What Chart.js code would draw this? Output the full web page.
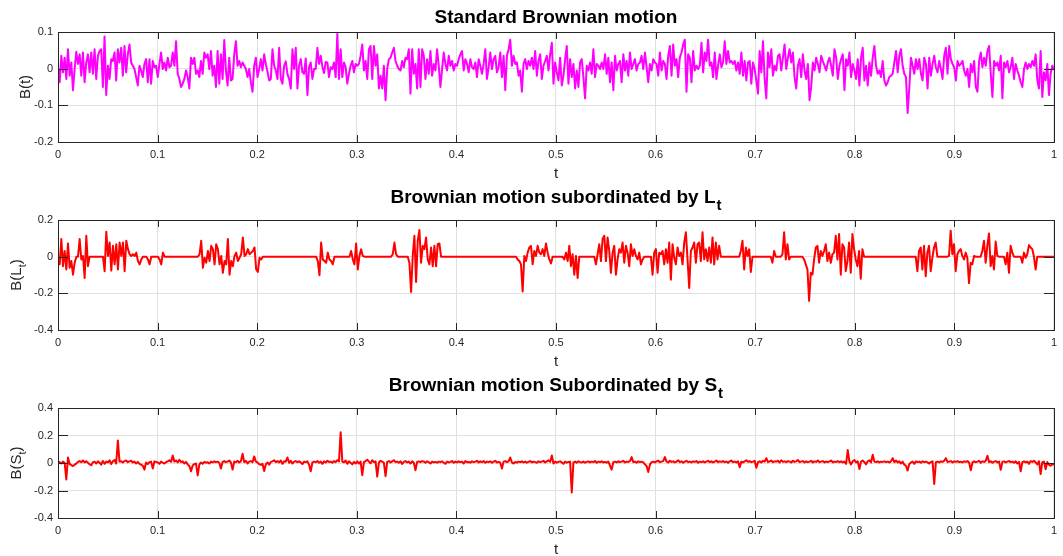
<!DOCTYPE html>
<html><head><meta charset="utf-8">
<script src="https://cdn.jsdelivr.net/npm/chart.js@4/dist/chart.umd.min.js"></script>
<style>
html,body{margin:0;padding:0;background:#fff;}
body{width:1063px;height:556px;position:relative;overflow:hidden;}
.box{position:absolute;left:0;width:1063px;height:186px;}
canvas{display:block;}
</style></head><body>
<div class="box" style="top:0px"><canvas id="c1" width="1063" height="186"></canvas></div>
<div class="box" style="top:188px"><canvas id="c2" width="1063" height="186"></canvas></div>
<div class="box" style="top:376px"><canvas id="c3" width="1063" height="186"></canvas></div>
<script>
const xTicks = [0,0.1,0.2,0.3,0.4,0.5,0.6,0.7,0.8,0.9,1];
const xTickLabels = ['0','0.1','0.2','0.3','0.4','0.5','0.6','0.7','0.8','0.9','1'];
const yTicks1 = [-0.2,-0.1,0,0.1];
const yTickLabels1 = ['-0.2','-0.1','0','0.1'];
const yTicks2 = [-0.4,-0.2,0,0.2];
const yTickLabels2 = ['-0.4','-0.2','0','0.2'];
const yTicks3 = [-0.4,-0.2,0,0.2,0.4];
const yTickLabels3 = ['-0.4','-0.2','0','0.2','0.4'];
const titles = ['Standard Brownian motion','Brownian motion subordinated by L','Brownian motion Subordinated by S'];
const titleSubs = ['','t','t'];
const yLabels = ['B(t)','B(L','B(S'];
const yLabelTails = ['',')',')'];
const xLabel = 't';

// Standard Brownian motion (sampled on a uniform grid over [0,1])
const bm = [
0.004,-0.037,0.035,-0.010,0.030,-0.028,0.053,-0.019,0.017,-0.059,
-0.001,0.046,0.013,0.039,-0.019,0.044,-0.037,0.017,0.039,-0.010,
0.044,-0.014,0.053,-0.028,0.035,0.048,0.053,-0.050,0.088,-0.072,
0.008,-0.028,0.026,0.021,0.044,-0.032,0.053,0.017,0.057,-0.019,
0.062,-0.010,0.039,0.066,0.017,0.008,-0.001,-0.023,-0.046,0.008,
-0.005,-0.023,0.013,0.026,-0.037,0.026,-0.041,0.021,0.004,0.008,
-0.023,0.013,0.044,-0.001,0.017,-0.005,0.030,0.004,0.008,0.044,
0.008,0.075,-0.014,-0.028,-0.050,-0.041,-0.028,-0.005,-0.023,-0.054,
0.030,0.013,0.030,-0.014,-0.005,-0.023,0.021,-0.014,0.044,0.030,
0.039,-0.001,0.048,-0.019,0.008,-0.050,0.048,-0.041,0.039,-0.028,
0.078,-0.005,-0.046,0.030,-0.032,-0.028,0.039,0.075,0.008,0.021,
0.004,0.017,0.008,-0.001,-0.023,-0.001,-0.037,-0.063,0.008,0.030,
-0.023,-0.001,0.026,-0.005,0.039,0.012,-0.008,-0.032,-0.028,0.053,0.008,-0.005,
-0.028,0.057,-0.028,-0.041,0.008,0.020,-0.015,-0.028,-0.054,0.053,-0.001,0.057,
-0.054,0.008,0.026,-0.010,-0.014,0.028,-0.072,0.004,0.017,-0.028,
-0.001,-0.001,0.057,0.013,0.035,0.006,-0.012,0.018,0.017,-0.023,0.004,-0.001,0.017,
-0.023,0.095,-0.028,0.053,-0.023,0.017,0.004,-0.041,-0.014,0.008,
0.021,-0.010,0.013,
0.008,0.013,0.035,0.066,-0.005,0.021,-0.028,0.053,0.062,-0.028,
0.062,0.008,0.039,-0.054,-0.019,-0.054,0.008,-0.086,-0.001,0.026,
0.030,0.044,0.057,0.021,0.008,-0.001,-0.005,0.021,0.004,0.030,
0.026,0.053,-0.068,0.053,-0.014,0.013,-0.054,0.053,-0.050,0.053,
0.035,-0.028,0.026,-0.014,0.048,-0.019,0.013,-0.005,0.053,0.008,
-0.050,-0.001,0.044,0.013,-0.005,0.035,0.008,0.021,-0.005,0.013,
0.008,0.026,0.039,0.048,-0.005,0.026,0.013,-0.010,0.026,0.004,
-0.001,0.017,-0.023,0.026,0.008,-0.014,0.013,0.053,-0.028,0.004,
0.044,-0.001,0.026,0.035,-0.010,0.004,0.044,-0.023,0.035,-0.059,
0.035,0.053,0.079,0.008,0.035,0.013,0.017,-0.019,-0.005,-0.063,
0.013,0.026,-0.001,0.021,0.008,0.030,-0.001,0.048,-0.019,0.021,
0.039,-0.028,0.008,0.021,0.035,-0.005,0.039,0.071,-0.041,0.017,
-0.010,-0.032,0.030,-0.046,-0.019,0.026,0.062,-0.041,0.026,-0.023,
0.013,-0.054,-0.005,-0.050,0.017,0.026,-0.023,-0.081,0.008,-0.005,
0.017,-0.014,0.053,-0.023,0.013,0.008,-0.001,0.017,-0.001,0.039,
-0.014,0.030,-0.037,0.017,-0.059,0.035,-0.005,0.013,0.021,-0.037,
0.039,-0.005,0.021,-0.019,0.044,-0.001,0.013,0.026,-0.005,0.013,
0.017,0.035,-0.001,0.044,0.004,-0.037,0.013,-0.005,0.026,0.017,
0.013,-0.019,0.044,-0.005,0.021,0.013,-0.028,0.035,0.062,-0.019,
0.066,0.008,0.026,-0.023,0.030,0.044,0.066,0.079,-0.063,0.039,
0.030,-0.037,0.048,-0.005,0.008,-0.001,
0.008,0.071,-0.010,0.044,0.021,0.079,0.008,0.017,-0.023,0.044,
-0.028,0.008,0.039,0.004,0.017,0.075,0.013,0.048,0.017,0.021,
0.013,0.021,-0.005,0.017,-0.014,0.044,-0.019,0.021,-0.032,0.017,
0.021,-0.041,0.017,-0.001,
-0.032,-0.068,0.048,-0.010,0.075,-0.028,-0.081,0.044,0.004,0.053,
-0.019,0.008,-0.005,0.035,0.039,-0.005,0.030,0.066,-0.001,0.030,
0.053,0.017,0.044,-0.023,-0.054,0.008,0.026,-0.023,0.039,-0.005,
-0.028,0.013,-0.086,-0.050,0.017,-0.005,0.030,0.013,-0.010,0.035,
0.021,0.008,-0.005,0.017,0.030,0.008,-0.019,0.053,0.030,-0.028,
0.008,0.026,0.039,-0.059,0.026,0.008,0.044,-0.023,0.013,-0.005,
-0.028,0.026,-0.046,0.030,0.057,-0.032,0.008,-0.046,0.017,-0.019,
0.030,0.062,0.008,-0.014,-0.005,-0.023,0.021,-0.032,-0.046,-0.037,
-0.023,-0.019,-0.014,0.017,0.048,-0.010,0.035,0.053,0.008,-0.014,
-0.023,-0.121,-0.054,0.030,0.008,-0.014,0.026,-0.001,0.026,-0.014,
-0.032,0.030,0.013,-0.054,0.030,-0.019,0.013,0.035,0.004,-0.010,
0.021,-0.001,-0.028,0.035,0.057,-0.014,0.062,0.026,0.013,0.004,
-0.032,0.021,0.008,0.013,0.021,-0.005,-0.019,-0.001,-0.050,0.013,
-0.010,0.021,-0.050,-0.063,0.021,0.044,0.004,0.030,0.008,0.048,
0.062,-0.014,-0.077,0.021,0.008,0.017,-0.005,0.035,-0.081,0.017,
0.004,0.021,-0.010,0.004,0.030,-0.028,0.013,-0.005,-0.019,-0.037,
-0.050,-0.001,0.017,-0.001,0.013,0.004,0.021,0.008,0.039,-0.032,
-0.054,0.048,-0.077,-0.010,-0.032,0.013,-0.072,-0.014,0.008,-0.001
];

// Brownian motion subordinated by L_t
const bl = [
0,-0.042,0.096,-0.052,0.031,-0.070,0.072,-0.061,-0.024,-0.098,
-0.033,0,0,0.096,-0.015,0.004,-0.116,0.114,-0.052,0,
0,0,0,0,0,0,0,0,-0.079,0.136,
0.004,0.077,-0.076,0.059,-0.042,0.068,-0.070,0.077,0.004,0.077,
-0.079,0.087,0.041,0.013,0.004,0.013,0.004,0.022,-0.024,-0.042,
-0.015,0,0,0,-0.015,-0.042,0,0,0,0,
0,-0.015,-0.042,0.022,0,0,0,0,0,0,
0,0,0,0,0,0,0,0,0,0,
0,0,0,0,0,0.013,0.087,-0.061,-0.006,-0.033,
0.031,-0.024,0.059,0.041,-0.042,0.068,0.041,-0.042,0.004,-0.088,
-0.024,-0.042,0.096,-0.098,-0.024,-0.052,0.004,0.022,-0.024,-0.006,
0.013,0.105,0.004,0.013,0.041,0.013,0.022,0.031,0.050,-0.070,
-0.083,-0.006,-0.015,0,0,0,0,0,0,0,
0,0,0,0,0,0,0,0,0,0,
0,0,0,0,0,0,0,0,0,0,
0,0,0,0,0,0,-0.024,-0.101,0.077,-0.015,
-0.024,-0.033,0.022,-0.015,-0.024,-0.042,0,0,0,0,
0,0,0,0,0,0,0.031,-0.015,-0.042,0.072,
-0.070,0.004,0.041,0.004,0,0,0,0,0,0,
0,0,0,0,0,0,0,0,0,0,
0,0.013,0.077,0.013,0,0,0,0,0,0,
0,-0.033,-0.193,0.004,0.114,-0.138,0.087,0.145,-0.033,0.059,
0.041,0.105,-0.015,-0.042,0.050,-0.052,0.059,-0.052,0.068,0.072,
0,0,0,0,0,0,0,0,0,0,
0,0,0,0,0,0,0,0,0,0,
0,0,0,0,0,0,0,0,0,0,
0,0,0,0,0,0,0,0,0,0,
0,0,0,0,0,0,-0.015,-0.024,-0.042,-0.190,
0.004,-0.024,0.022,0.050,0.059,-0.042,0.031,0.004,0.059,0.022,
0.013,0.041,0.004,0.072,0.022,-0.015,-0.037,0,0,0,
0,0,0,0,-0.015,0.022,-0.024,0.059,-0.052,0.013,
-0.098,0.004,-0.116,0,0,0,0,0,0,0,
0,0,0,-0.042,0.013,0.068,-0.024,0.096,0.114,-0.024,
0.105,0.031,-0.088,0.022,0.059,-0.098,-0.015,0.041,0.022,0.077,
-0.033,0.059,0.022,-0.052,0.068,0.004,0.041,0.004,-0.015,0.022,
-0.042,-0.015,0,0,0,0,0,-0.098,0.022,0.041,
-0.088,0.022,0.013,0.031,-0.042,0.041,-0.033,0.077,-0.125,0.068,
-0.006,-0.042,0.050,0.004,0.022,-0.042,0.077,0.133,-0.015,-0.171,
0.031,0.050,0.077,-0.033,0.068,0.077,-0.024,0.133,-0.015,0.041,
-0.024,0.050,-0.033,0.105,-0.042,0.077,-0.015,0.059,0,0,
0,0,0,0,0,0,0,0,0,0,
0.031,0.087,-0.070,0.050,0.004,0.041,-0.083,0,0,0,
0,0,0,0,0,0,0,0,0,-0.033,
0.031,0,0,0,0,0.013,0.133,-0.015,0.068,-0.015,
0,0,0,0,0,0,0,0,-0.015,-0.042,
-0.070,-0.241,-0.088,-0.098,-0.015,0.050,0.059,-0.033,0.031,0.004,
0.031,0.068,-0.024,0.022,-0.033,0.013,0.022,0.114,-0.015,0.123,
-0.098,0.068,0.050,-0.079,-0.024,0.077,-0.088,0.123,0.041,-0.015,
-0.052,0.031,-0.120,0.041,0,0,0,0,0,0,
0,0,0,0,0,0,0,0,0,0,
0,0,0,0,0,0,0,0,0,0,
0,0,0,0,0,0,-0.079,0.031,0.050,-0.070,
0.059,-0.107,0.022,0.059,-0.079,-0.006,0.050,0.077,0,0,
0,0,0,0,0,0.004,0.142,0.013,0.068,-0.079,
0.013,0.031,0.041,0.004,-0.015,0.022,-0.006,-0.144,-0.033,-0.042,
0.004,0,0,0,0,0.031,0.087,-0.033,0.059,0.127,
-0.052,0.004,-0.070,0.083,0.004,0,0,0,0,-0.042,
0.022,-0.088,0.059,0.022,0,0,0,0,0,-0.033,
0.022,-0.006,0.013,0.063,0.050,0.041,0,-0.070,0,0,
0,0,0,0,0,0,0,0,0
];

// Brownian motion subordinated by S_t
const bs = [
0.012,0.006,-0.004,0.010,0.002,-0.120,0.040,-0.008,-0.015,-0.022,
-0.012,-0.004,0.008,0.014,0.006,0.018,0.004,0.012,0.002,-0.010,
-0.016,0.006,0.010,-0.004,0.012,0.002,-0.012,0.015,-0.006,0.010,
0.004,0.020,-0.008,0.012,0.022,-0.004,0.164,0.010,0.012,0.004,
0.014,0.018,0.006,0.012,0.016,0.004,0.010,-0.004,0.008,-0.006,
-0.012,-0.020,-0.048,0.004,-0.008,0.006,0.010,-0.040,0.012,0.008,
0.004,-0.006,0.010,0.002,-0.004,0.006,0.012,0.020,0.008,0.055,
0.010,0.018,0.004,0.024,0.006,0.012,-0.004,0.008,-0.010,-0.022,
-0.060,-0.018,-0.008,-0.004,-0.090,-0.012,0.004,-0.006,0.008,0.002,
0.006,-0.004,0.010,0.004,0.012,0.006,0.010,0.002,-0.040,0.008,
0.014,0.006,0.010,0.018,0.004,-0.048,0.010,0.006,0.016,0.004,
0.012,0.067,0.006,0.016,-0.004,0.010,0.014,0.006,0.048,0.010,
0.004,-0.008,-0.014,-0.006,-0.058,-0.010,0.004,-0.012,0.008,0.012,
0.020,0.006,0.014,0.004,0.018,-0.006,0.012,0.010,0.040,0.002,
0.016,-0.004,0.010,0.014,0.006,0.012,0.004,-0.008,0.010,0.006,
0.012,-0.012,-0.060,0.004,0.010,0.006,0.014,0.002,0.010,-0.006,
0.012,0.004,0.016,0.008,0.010,0.002,0.014,0.006,0.020,0.012,
0.224,0.010,0.004,0.018,-0.006,0.012,0.002,-0.010,0.008,-0.004,
0.012,-0.004,0.010,-0.089,0.006,0.014,0.024,0.010,-0.002,0.020,
0.006,0.012,-0.100,0.004,0.016,0.010,0.002,-0.096,0.008,0.014,
0.004,0.012,0.020,0.006,0.010,0.002,0.012,-0.006,0.008,0.014,
0.004,0.010,-0.004,0.012,0.002,-0.053,0.008,0.012,0.006,0.014,
0.010,0.002,0.012,0.006,-0.004,0.010,0.004,0.008,0.002,0.010,
0.006,0.012,0.002,-0.006,0.010,0.004,0.008,0.014,0.002,0.010,
0.004,0.012,0.006,0.010,-0.004,0.014,0.006,0.008,0.002,0.012,
0.006,0.010,0.016,0.004,0.012,0.006,0.014,0.002,0.010,0.006,
0.012,0.002,0.010,0.016,0.004,0.008,0.002,-0.040,0.010,0.014,
0.006,0.012,0.040,0.004,-0.004,0.008,0.002,0.010,0.006,0.012,
0.004,0.010,0.002,0.008,0.014,0.004,0.010,0.006,0.002,0.012,
0.006,0.010,0.016,0.004,0.012,0.020,0.008,0.055,-0.004,0.010,
0.002,0.008,0.012,0.004,-0.006,0.010,0.002,0.008,0.010,-0.214,
0.004,0.010,0.002,0.012,0.006,0.004,0.010,0.002,0.008,0.012,
0.004,0.010,0.006,0.014,0.002,0.010,0.006,0.012,0.004,0.008,
0.002,0.010,-0.020,-0.048,0.006,0.010,0.004,0.012,0.006,0.010,
0.016,0.004,0.010,0.008,0.014,0.043,0.006,0.010,0.002,0.012,
0.006,0.010,0.004,-0.010,-0.022,-0.065,-0.012,0.006,0.010,0.004,
0.012,0.018,0.006,0.010,0.014,0.043,0.010,0.004,0.016,0.008,
0.012,0.004,0.010,0.020,0.006,0.012,0.002,0.010,0.016,0.006,
0.010,0.004,0.012,0.008,0.014,0.002,0.010,0.006,0.012,0.004,
0.010,0.016,0.006,0.012,0.004,0.010,0.018,0.006,0.012,0.008,
0.014,0.006,0.010,0.002,0.012,0.018,0.006,0.010,0.004,0.012,
-0.030,0.010,0.004,0.012,0.020,0.008,0.014,0.006,0.010,0.016,
-0.035,0.006,0.012,0.004,0.016,0.010,0.035,0.006,0.012,0.018,
0.006,0.012,0.010,0.016,0.004,0.020,0.008,0.012,0.006,0.014,
0.010,0.004,0.016,0.008,0.012,0.022,0.006,0.010,0.014,0.004,
0.012,0.006,0.010,0.016,0.004,0.012,0.008,0.018,0.006,0.010,
0.014,0.004,0.010,0.006,0.012,0.018,0.004,0.010,0.008,0.014,
0.006,0.012,0.004,0.010,-0.006,0.094,0.010,-0.010,0.012,0.022,
0.004,0.012,-0.043,0.010,0.018,0.006,-0.010,0.012,0.020,0.004,
0.060,0.010,0.006,0.012,0.004,0.010,0.008,0.012,0.006,0.010,
0.004,0.012,0.035,0.006,0.018,0.004,0.012,-0.004,0.010,-0.012,
-0.020,-0.055,-0.008,0.004,0.010,-0.006,0.012,0.006,0.010,0.002,
0.012,0.006,0.010,0.004,-0.004,0.008,0.012,-0.152,0.006,0.010,
0.004,0.012,0.008,0.016,0.035,0.006,0.010,0.014,0.004,0.012,
0.008,0.014,0.006,0.010,0.004,0.012,0.008,0.014,0.002,-0.053,
0.004,0.012,0.006,0.010,0.016,0.002,0.012,0.008,0.016,0.053,
0.006,0.012,0.002,0.010,0.014,0.004,0.010,-0.050,0.008,0.012,
0.004,0.010,0.014,0.006,0.010,0.002,0.012,-0.004,0.008,-0.060,
0.006,0.012,0.004,0.010,-0.006,0.014,0.008,0.016,0.004,-0.010,
0.012,-0.080,0.006,0.010,-0.045,0.008,-0.012,-0.020,-0.008,-0.014
];

const FONT = '"Liberation Sans", Arial, Helvetica, sans-serif';
const AXC = '#262626';

const framePlugin = {
  id: 'frame',
  afterDatasetsDraw(chart) {
    const {ctx, chartArea: a, scales: {x, y}} = chart;
    ctx.save();
    ctx.strokeStyle = AXC;
    ctx.lineWidth = 1;
    ctx.beginPath();
    x.ticks.forEach(t => {
      const px = Math.round(x.getPixelForValue(t.value)) + 0.5;
      ctx.moveTo(px, a.bottom); ctx.lineTo(px, a.bottom - 7);
      ctx.moveTo(px, a.top); ctx.lineTo(px, a.top + 7);
    });
    y.ticks.forEach(t => {
      const py = Math.round(y.getPixelForValue(t.value)) + 0.5;
      ctx.moveTo(a.left, py); ctx.lineTo(a.left + 10, py);
      ctx.moveTo(a.right, py); ctx.lineTo(a.right - 10, py);
    });
    ctx.stroke();
    ctx.strokeRect(Math.round(a.left) + 0.5, Math.round(a.top) + 0.5,
                   Math.round(a.right - a.left), Math.round(a.bottom - a.top));
    ctx.restore();
  }
};

const textPlugin = {
  id: 'texts',
  afterDraw(chart, args, o) {
    const {ctx, chartArea: a} = chart;
    const cx = (a.left + a.right) / 2;
    ctx.save();
    ctx.textAlign = 'left';
    ctx.textBaseline = 'alphabetic';
    // title
    ctx.fillStyle = '#000';
    ctx.font = 'bold 19px ' + FONT;
    const w1 = ctx.measureText(o.title).width;
    ctx.font = 'bold 15px ' + FONT;
    const w2 = o.titleSub ? ctx.measureText(o.titleSub).width + 1 : 0;
    const x0 = cx - (w1 + w2) / 2;
    ctx.font = 'bold 19px ' + FONT;
    ctx.fillText(o.title, x0, o.titleY);
    if (o.titleSub) {
      ctx.font = 'bold 15px ' + FONT;
      ctx.fillText(o.titleSub, x0 + w1 + 1, o.titleY + 7);
    }
    // x label
    ctx.fillStyle = AXC;
    ctx.font = '15px ' + FONT;
    ctx.textAlign = 'center';
    ctx.fillText(xLabel, cx, a.bottom + 36);
    // y label (rotated)
    ctx.textAlign = 'left';
    ctx.translate(o.yLabX, (a.top + a.bottom) / 2);
    ctx.rotate(-Math.PI / 2);
    ctx.font = '15px ' + FONT;
    const m1 = ctx.measureText(o.yLab).width;
    ctx.font = '11px ' + FONT;
    const m2 = o.yLabSub ? ctx.measureText(o.yLabSub).width : 0;
    ctx.font = '15px ' + FONT;
    const m3 = o.yLabTail ? ctx.measureText(o.yLabTail).width : 0;
    const sx = -(m1 + m2 + m3) / 2;
    ctx.fillText(o.yLab, sx, 0);
    if (o.yLabSub) {
      ctx.font = '11px ' + FONT;
      ctx.fillText(o.yLabSub, sx + m1, 5);
      ctx.font = '15px ' + FONT;
      ctx.fillText(o.yLabTail, sx + m1 + m2, 0);
    }
    ctx.restore();
  }
};

function makeChart(id, values, color, yTicks, yTickLabels, texts) {
  const n = values.length;
  const data = values.map((v, i) => ({x: i / (n - 1), y: v}));
  return new Chart(document.getElementById(id), {
    type: 'line',
    data: {datasets: [{data, borderColor: color, borderWidth: 2, pointRadius: 0,
                       tension: 0, fill: false, borderJoinStyle: 'round'}]},
    options: {
      responsive: false,
      animation: false,
      events: [],
      layout: {padding: {top: 32, right: 9, bottom: 18, left: 0}},
      plugins: {legend: {display: false}, tooltip: {enabled: false}, title: {display: false},
                texts: texts},
      scales: {
        x: {
          type: 'linear', min: 0, max: 1,
          afterBuildTicks: s => { s.ticks = xTicks.map(v => ({value: v})); },
          afterFit: s => { s.height = 26; },
          grid: {color: '#e0e0e0', lineWidth: 1, drawTicks: false},
          border: {display: false},
          ticks: {padding: 6, color: AXC, font: {family: FONT, size: 11}, maxRotation: 0,
                  autoSkip: false, callback: (v, i) => xTickLabels[i]}
        },
        y: {
          type: 'linear', min: yTicks[0], max: yTicks[yTicks.length - 1],
          afterBuildTicks: s => { s.ticks = yTicks.map(v => ({value: v})); },
          afterFit: s => { s.width = 58; },
          grid: {color: '#e0e0e0', lineWidth: 1, drawTicks: false},
          border: {display: false},
          ticks: {padding: 5, color: AXC, font: {family: FONT, size: 11},
                  autoSkip: false, callback: (v, i) => yTickLabels[i]}
        }
      }
    },
    plugins: [framePlugin, textPlugin]
  });
}

makeChart('c1', bm, '#ff00ff', yTicks1, yTickLabels1,
  {title: titles[0], titleSub: titleSubs[0], titleY: 23, yLab: yLabels[0], yLabSub: '', yLabTail: yLabelTails[0], yLabX: 30});
makeChart('c2', bl, '#ff0000', yTicks2, yTickLabels2,
  {title: titles[1], titleSub: titleSubs[1], titleY: 15, yLab: yLabels[1], yLabSub: 't', yLabTail: yLabelTails[1], yLabX: 21});
makeChart('c3', bs, '#ff0000', yTicks3, yTickLabels3,
  {title: titles[2], titleSub: titleSubs[2], titleY: 15, yLab: yLabels[2], yLabSub: 't', yLabTail: yLabelTails[2], yLabX: 21});
</script>
</body></html>
